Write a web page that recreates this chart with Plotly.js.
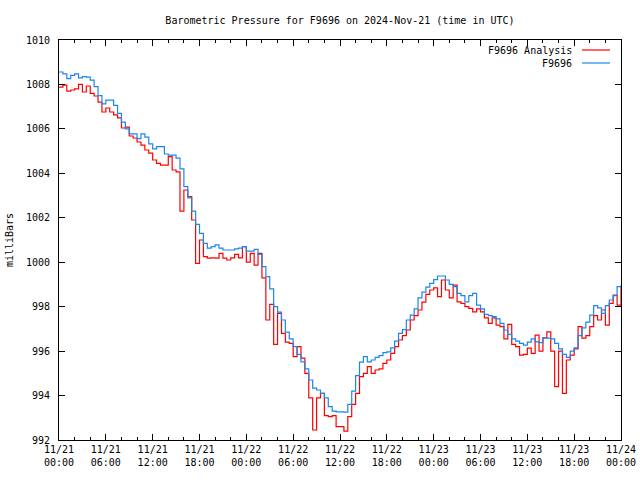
<!DOCTYPE html>
<html>
<head>
<meta charset="utf-8">
<script src="https://cdn.plot.ly/plotly-3.0.1.min.js"></script>
<style>html,body{margin:0;padding:0;background:#fff}#chart{width:640px;height:480px}</style>
</head>
<body>
<div id="chart"></div>
<script>
// Sampling of both series: every 30 minutes from 2024-11-21 00:00 UTC
const startTime = Date.UTC(2024, 10, 21, 0, 0, 0);
const stepMinutes = 30;

const seriesNames = ['F9696 Analysis', 'F9696'];

// F9696 Analysis (red), milliBars
const analysisValues = [
1007.88, 1007.97, 1007.70, 1007.75, 1007.80, 1008.00, 1007.66, 1007.93, 1007.60, 1007.48,
1007.20, 1006.76, 1006.94, 1006.76, 1006.63, 1006.50, 1006.04, 1006.08, 1005.68, 1005.59,
1005.41, 1005.27, 1005.05, 1004.91, 1004.60, 1004.45, 1004.37, 1004.37, 1004.75, 1004.15,
1004.07, 1002.30, 1003.25, 1002.95, 1001.90, 999.95, 1001.00, 1000.25, 1000.18, 1000.20,
1000.18, 1000.40, 1000.18, 1000.10, 1000.20, 1000.35, 1000.20, 1000.70, 1000.00, 1000.40,
999.87, 1000.40, 999.30, 997.40, 998.10, 996.30, 997.70, 996.80, 996.40, 996.35,
995.75, 996.20, 995.68, 995.00, 993.90, 992.45, 993.90, 994.10, 993.10, 993.05,
993.10, 992.60, 992.60, 992.40, 993.05, 993.60, 994.10, 994.85, 995.00, 995.30,
995.00, 995.15, 995.20, 995.45, 995.60, 995.90, 996.20, 996.50, 996.70, 996.95,
997.40, 997.60, 997.85, 998.20, 998.55, 998.75, 998.85, 998.45, 999.20, 998.75,
998.40, 998.97, 998.22, 998.15, 998.00, 997.92, 997.77, 997.90, 997.77, 997.50,
997.25, 997.50, 997.17, 997.10, 996.55, 997.20, 996.30, 996.20, 995.82, 995.85,
996.13, 995.90, 996.72, 996.00, 996.60, 996.87, 996.00, 994.40, 996.00, 994.10,
995.60, 995.82, 996.10, 997.10, 996.58, 996.70, 997.10, 997.60, 997.40, 997.85,
997.17, 998.15, 998.52, 998.07, 998.90
];

// F9696 observed (blue), milliBars
const observedValues = [
1008.56, 1008.48, 1008.26, 1008.41, 1008.48, 1008.30, 1008.35, 1008.33, 1008.19, 1007.90,
1007.50, 1007.13, 1007.29, 1007.29, 1007.06, 1006.70, 1006.30, 1006.00, 1005.78, 1005.78,
1005.56, 1005.78, 1005.63, 1005.33, 1005.10, 1005.20, 1005.20, 1004.87, 1004.82, 1004.82,
1004.68, 1004.20, 1003.40, 1002.90, 1002.30, 1001.70, 1001.30, 1000.85, 1000.63, 1000.70,
1000.78, 1000.63, 1000.55, 1000.55, 1000.55, 1000.60, 1000.63, 1000.70, 1000.50, 1000.50,
1000.58, 1000.35, 999.80, 999.35, 998.80, 998.00, 997.75, 997.40, 996.85, 996.55,
996.20, 995.85, 995.52, 995.20, 994.70, 994.33, 994.25, 994.10, 993.90, 993.50,
993.30, 993.27, 993.27, 993.25, 993.60, 994.20, 994.90, 995.50, 995.75, 995.52,
995.60, 995.72, 995.80, 995.93, 995.97, 996.15, 996.45, 996.80, 996.97, 997.40,
997.62, 997.90, 998.40, 998.65, 998.88, 999.05, 999.22, 999.38, 999.38, 999.20,
999.00, 998.90, 998.60, 998.50, 998.22, 998.50, 998.60, 998.07, 997.90, 997.65,
997.60, 997.55, 997.45, 997.25, 996.95, 996.75, 996.55, 996.45, 996.35, 996.27,
996.40, 996.55, 996.42, 996.38, 996.60, 996.58, 996.55, 996.35, 996.10, 995.85,
995.72, 996.00, 996.15, 996.70, 997.05, 997.30, 997.62, 998.05, 997.95, 997.70,
998.05, 998.30, 998.50, 998.90, 998.97
];

function pad(n){ return (n < 10 ? '0' : '') + n; }
function timeAt(i){
  const d = new Date(startTime + i * stepMinutes * 60000);
  return d.getUTCFullYear() + '-' + pad(d.getUTCMonth()+1) + '-' + pad(d.getUTCDate()) + ' ' +
         pad(d.getUTCHours()) + ':' + pad(d.getUTCMinutes()) + ':00';
}
const timesA = analysisValues.map((_, i) => timeAt(i));
const timesO = observedValues.map((_, i) => timeAt(i));

const RED = '#ff0000';
const BLUE = '#1a87f0';
const FONT = 'DejaVu Sans Mono, monospace';

const traces = [
  { x: timesA, y: analysisValues, type: 'scatter', mode: 'lines', name: seriesNames[0],
    line: { color: RED, width: 1.2, shape: 'hv' }, showlegend: false },
  { x: timesO, y: observedValues, type: 'scatter', mode: 'lines', name: seriesNames[1],
    line: { color: BLUE, width: 1.2, shape: 'hv' }, showlegend: false }
];

const layout = {
  width: 640, height: 480,
  margin: { l: 59, r: 19, t: 40, b: 40, pad: 0 },
  paper_bgcolor: '#fff', plot_bgcolor: '#fff',
  font: { family: FONT, size: 10, color: '#000' },
  title: { text: 'Barometric Pressure for F9696 on 2024-Nov-21 (time in UTC)',
           x: 0.5312, xanchor: 'center', y: 0.958, yanchor: 'middle',
           font: { family: FONT, size: 10, color: '#000' } },
  xaxis: {
    type: 'date',
    range: ['2024-11-21 00:00:00', '2024-11-24 00:00:00'],
    tick0: '2024-11-21 00:00:00', dtick: 6 * 3600000,
    tickformat: '%m/%d<br>%H:%M',
    ticks: 'inside', ticklen: 6, tickwidth: 1, tickcolor: '#000',
    minor: { dtick: 2 * 3600000, ticks: 'inside', ticklen: 3, tickwidth: 1, tickcolor: '#000' },
    showline: true, linecolor: '#000', linewidth: 1, mirror: 'ticks',
    showgrid: false, zeroline: false,
    tickfont: { family: FONT, size: 10, color: '#000' }
  },
  yaxis: {
    range: [992, 1010], dtick: 2, tick0: 992,
    ticks: 'inside', ticklen: 6, tickwidth: 1, tickcolor: '#000',
    showline: true, linecolor: '#000', linewidth: 1, mirror: 'ticks',
    showgrid: false, zeroline: false,
    ticklabelstandoff: 6,
    tickfont: { family: FONT, size: 10, color: '#000' },
    title: { text: 'milliBars', standoff: 10, font: { family: FONT, size: 10, color: '#000' } }
  },
  showlegend: false,
  annotations: [
    { xref: 'paper', yref: 'paper', x: 0.9164, y: 0.975, xanchor: 'right', yanchor: 'middle',
      text: seriesNames[0], showarrow: false, font: { family: FONT, size: 10, color: '#000' } },
    { xref: 'paper', yref: 'paper', x: 0.9164, y: 0.9425, xanchor: 'right', yanchor: 'middle',
      text: seriesNames[1], showarrow: false, font: { family: FONT, size: 10, color: '#000' } }
  ],
  shapes: [
    { type: 'line', xref: 'paper', yref: 'paper', x0: 0.9306, x1: 0.9804, y0: 0.975, y1: 0.975,
      line: { color: RED, width: 1.2 } },
    { type: 'line', xref: 'paper', yref: 'paper', x0: 0.9306, x1: 0.9804, y0: 0.9425, y1: 0.9425,
      line: { color: BLUE, width: 1.2 } }
  ]
};

Plotly.newPlot('chart', traces, layout, { staticPlot: true, displayModeBar: false });
</script>
</body>
</html>
